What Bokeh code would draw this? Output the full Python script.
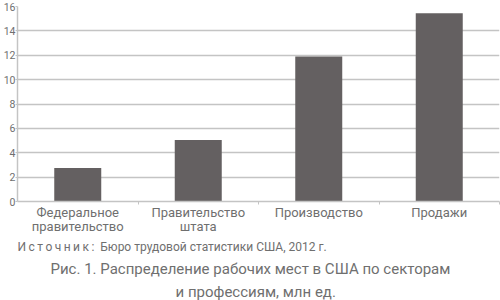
from bokeh.plotting import figure
from bokeh.models import (Range1d, LinearAxis, FixedTicker, Title, ColumnDataSource)
from bokeh.embed import file_html
from bokeh.resources import INLINE

categories = ["Федеральное\nправительство", "Правительство\nштата", "Производство", "Продажи"]
values = [2.75, 5.05, 11.9, 15.45]
y_ticks = [0, 2, 4, 6, 8, 10, 12, 14, 16]
source_label = "\u2009".join("Источник") + "\u2009:\u00a0\u00a0"
source_text = source_label + "Бюро трудовой статистики США, 2012 г."
caption_line1 = "Рис. 1. Распределение рабочих мест в США по секторам"
caption_line2 = "и профессиям, млн ед."

FONT = "Roboto"
TXT = "#6f6f6f"
GRID = "#c4c4c4"
BAR = "#646061"

n = len(categories)
centers = [i + 0.5 for i in range(n)]
edges = [i + 1 for i in range(n)]

p = figure(width=500, height=300, x_range=Range1d(0, n),
           y_range=Range1d(0, 16), output_backend="svg", toolbar_location=None,
           x_axis_location=None, y_axis_location="left",
           min_border_left=15, min_border_right=1, min_border_top=6, min_border_bottom=98)
p.outline_line_color = None
p.background_fill_color = "white"
p.border_fill_color = "white"

src = ColumnDataSource(data=dict(x=centers, val=values))
p.vbar(x="x", top="val", width=0.39, source=src, fill_color=BAR, line_color=None)

# y axis
ya = p.yaxis[0]
ya.ticker = FixedTicker(ticks=y_ticks)
ya.axis_line_color = GRID
ya.axis_line_width = 1.5
ya.major_tick_line_color = GRID
ya.major_tick_out = 2
ya.major_tick_in = 0
ya.minor_tick_line_color = None
ya.major_label_standoff = 0
ya.major_label_text_font = FONT
ya.major_label_text_font_size = "10.5px"
ya.major_label_text_color = TXT

p.xgrid.grid_line_color = None
p.ygrid.ticker = FixedTicker(ticks=y_ticks)
p.ygrid.grid_line_color = GRID
p.ygrid.grid_line_width = 1.5

# category axis: labels at centres, small ticks at boundaries
cat_axis = LinearAxis(ticker=FixedTicker(ticks=centers, minor_ticks=edges))
cat_axis.axis_line_color = GRID
cat_axis.axis_line_width = 1.5
cat_axis.major_tick_line_color = None
cat_axis.major_tick_out = 0
cat_axis.major_tick_in = 0
cat_axis.minor_tick_line_color = GRID
cat_axis.minor_tick_out = 3
cat_axis.minor_tick_in = 0
cat_axis.major_label_standoff = 0
cat_axis.major_label_overrides = dict(zip(centers, categories))
cat_axis.major_label_text_font = FONT
cat_axis.major_label_text_font_size = "13px"
cat_axis.major_label_text_line_height = 0.95
cat_axis.major_label_text_color = TXT
p.add_layout(cat_axis, "below")

t1 = Title(text=source_text, align="left", text_font=FONT, text_font_size="12px",
           text_font_style="normal", text_color=TXT, standoff=2)
p.add_layout(t1, "below")
t2 = Title(text=caption_line1, align="left", text_font=FONT, text_font_size="15px",
           text_font_style="normal", text_color=TXT, standoff=6, offset=33)
p.add_layout(t2, "below")
t3 = Title(text=caption_line2, align="left", text_font=FONT, text_font_size="15px",
           text_font_style="normal", text_color=TXT, standoff=0, offset=158)
p.add_layout(t3, "below")

open("out.html", "w").write(file_html(p, INLINE))
